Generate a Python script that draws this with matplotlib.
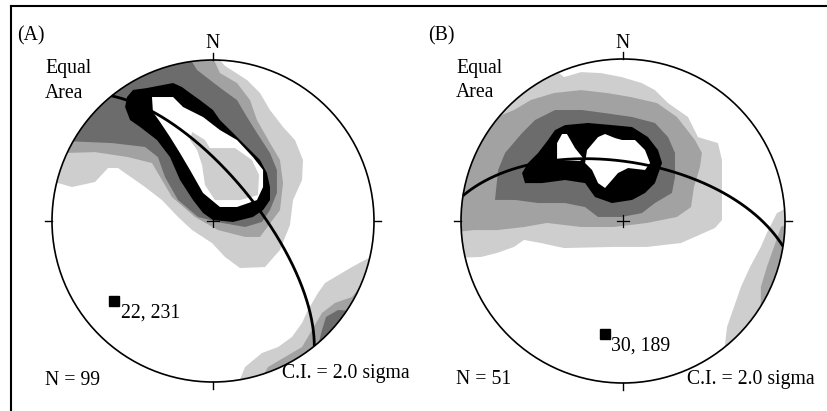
import numpy as np
import matplotlib
matplotlib.use("Agg")
import matplotlib.pyplot as plt
from matplotlib.patches import Polygon, Circle

plt.rcParams['font.family'] = ['Liberation Serif', 'DejaVu Serif']

# ---------------- data ----------------
PANELS = ['(A)', '(B)']
N_POLES = [99, 51]
CONTOUR_INTERVAL = 2.0          # sigma
POLE_A = (22, 231)              # plunge, trend of mean pole / great-circle pole
POLE_B = (30, 189)

# contour level colours (1 = lowest ... 6 = highest)
LEVEL_COLORS = {1: '#cecece', 2: '#a2a2a2', 3: '#6c6c6c', 4: '#000000',
                5: '#ffffff', 6: '#cecece'}

# density contour boundaries, equal-area lower hemisphere, % of primitive radius (x east, y north)
A_L1_UPPER = [(-5, 110), (7.5, 96.3), (21.1, 87.6), (29.2, 79.5), (35.4, 68.9), (43.5, 58.4),
              (50.9, 50.3), (55.9, 37.9), (55.3, 25.5), (49.7, 13.0), (47.8, -2.5), (41.6, -18.0),
              (32.3, -28.6), (16.8, -29.2), (7.5, -22.4), (-0.6, -13.7), (-13.0, -5.6), (-21.7, 2.5),
              (-31.7, 13.0), (-42.2, 21.1), (-59.0, 32.9), (-65.2, 32.9), (-73.3, 24.2), (-87.6, 21.1),
              (-96.3, 23.6), (-110, 23), (-115, 60), (-80, 95), (-40, 112)]
A_L2_UPPER = [(-100, 42), (-73.3, 42.8), (-52.8, 39.7), (-37.9, 36.0), (-25.5, 14.9), (-11.2, 2.5),
              (3.1, -5.6), (19.9, -9.9), (29.2, -9.9), (41.6, 6.8), (43.5, 23.6), (41.6, 37.9),
              (35.4, 48.4), (27.3, 62.7), (23.0, 75.1), (14.9, 85.7), (4.3, 91.9), (-4, 110),
              (-60, 110), (-110, 60)]
A_L3_UPPER = [(-100, 50), (-62.7, 48.4), (-42.2, 46.0), (-34.2, 39.7), (-29.8, 27.3), (-21.7, 13.0),
              (-9.3, 2.5), (5.6, -1.2), (19.9, -3.7), (30.4, -0.6), (35.4, 6.8), (39.7, 17.4),
              (39.7, 31.7), (35.4, 42.2), (27.3, 54.7), (21.1, 64.6), (14.9, 75.1), (6.2, 81.4),
              (-1.9, 87.6), (-9.9, 93.8), (-20, 110), (-60, 110), (-110, 60)]
A_L4 = [(-54.6, 70.8), (-53.4, 77.0), (-49.7, 81.4), (-41.0, 82.6), (-24.8, 85.7), (-19.3, 83.2),
        (-14.3, 79.5), (-8.1, 75.1), (0.0, 68.9), (4.3, 62.7), (12.4, 54.7), (21.1, 46.0),
        (29.2, 37.9), (33.5, 29.8), (35.4, 21.1), (35.4, 13.0), (31.1, 6.8), (24.8, 2.5),
        (12.4, -0.6), (0.0, 0.6), (-6.2, 5.0), (-12.4, 13.0), (-20.5, 25.5), (-26.7, 39.7),
        (-34.8, 50.3), (-45.3, 58.4), (-51.5, 62.7)]
A_L5 = [(-37.9, 77.0), (-24.8, 77.0), (-18.6, 70.8), (-6.2, 64.6), (4.3, 56.5), (14.9, 50.3),
        (24.8, 39.7), (31.1, 31.7), (31.1, 21.1), (27.3, 13.0), (14.9, 8.7), (4.3, 8.7),
        (-6.2, 17.4), (-14.3, 31.7), (-20.5, 42.2), (-26.7, 52.2), (-32.9, 61.5), (-37.3, 67.7)]
A_L6 = [(-13.0, 55.3), (-5.0, 50.3), (-1.9, 45.3), (13.7, 45.3), (24.2, 37.9), (28.6, 28.6),
        (27.9, 16.1), (16.8, 13.0), (1.2, 13.0), (-5.0, 22.4), (-6.8, 34.8), (-9.9, 44.1),
        (-14.3, 50.3)]
A_L1_LOWER = [(12, -110), (19.9, -90.7), (30.4, -82.0), (40.4, -78.3), (49.1, -72.0), (55.3, -63.3),
              (59.0, -55.3), (65.2, -44.7), (69.6, -38.5), (75.8, -34.8), (86.3, -28.6), (94.4, -24.2),
              (110, -17), (110, -110)]
A_L2_LOWER = [(23, -110), (34.2, -90.7), (44.7, -84.5), (55.3, -78.3), (61.5, -67.7), (67.7, -57.1),
              (75.8, -50.9), (86.3, -47.2), (90.0, -42.8), (105, -38), (110, -110)]
A_L3_LOWER = [(62, -90), (67.7, -67.7), (70.2, -59.6), (77.6, -55.3), (90, -56), (95, -85)]

B_L1_UPPER = [(-50, 100), (-36.4, 88.8), (-25.9, 91.9), (-13.6, 91.3), (-0.6, 88.8), (11.7, 85.1),
              (19.7, 80.8), (27.8, 72.8), (40.1, 64.2), (46.3, 51.8), (58.6, 48.1), (61.1, 37.6),
              (61.1, 21.0), (61.1, 0.6), (56.8, -4.3), (35.8, -13.6), (14.8, -16.0), (-5.6, -16.0),
              (-36.4, -16.7), (-50.6, -13.6), (-61.1, -11.7), (-67.3, -16.0), (-77.7, -19.7),
              (-87.6, -22.2), (-110, -23), (-115, 40), (-75, 95)]
B_L2_UPPER = [(-105, -7), (-91.9, -5.6), (-77.7, -5.6), (-61.1, -3.7), (-46.9, -1.2), (-25.9, -3.7),
              (-5.6, -3.7), (14.8, -1.2), (33.3, 2.5), (42.0, 8.6), (43.8, 21.0), (47.5, 33.3),
              (48.7, 42.0), (44.4, 50.0), (33.3, 64.2), (21.0, 72.8), (4.9, 76.5), (-9.9, 79.0),
              (-25.9, 80.8), (-42.6, 79.0), (-56.8, 74.7), (-67.3, 68.5), (-77.7, 64.2),
              (-90, 70), (-110, 20)]
B_L3 = [(-54.3, 62.3), (-42.0, 68.5), (-25.3, 68.5), (-11.1, 66.6), (5.6, 64.2), (19.7, 60.5),
        (27.8, 51.8), (32.1, 42.0), (32.1, 27.1), (30.2, 17.3), (19.7, 11.1), (11.7, 4.9),
        (-0.6, 2.5), (-15.4, 2.5), (-23.4, 8.6), (-35.8, 11.1), (-52.4, 11.1), (-66.6, 13.0),
        (-79.0, 13.0), (-77.1, 31.5), (-72.8, 42.0), (-62.3, 54.3)]
B_L4 = [(-42.0, 56.1), (-35.8, 59.2), (-21.6, 60.5), (-6.8, 59.2), (5.6, 58.0), (15.4, 51.8),
        (21.6, 43.8), (24.1, 35.8), (19.7, 23.4), (13.6, 17.3), (5.6, 13.0), (-6.8, 11.1),
        (-17.3, 14.8), (-23.4, 23.4), (-35.8, 25.3), (-50.0, 23.4), (-60.5, 23.4), (-62.3, 29.6),
        (-58.6, 35.8), (-52.4, 42.0), (-46.3, 50.0)]
B_L5_LEFT = [(-40.7, 37.6), (-40.7, 48.1), (-37.6, 53.7), (-34.6, 53.7), (-29.6, 45.0),
             (-24.7, 38.9), (-26.5, 37.0)]
B_L5_RIGHT = [(-22.2, 43.8), (-15.4, 51.8), (-11.1, 53.7), (-4.9, 51.2), (-0.6, 50.0), (7.4, 50.0),
              (13.6, 43.8), (16.7, 35.8), (13.6, 31.5), (3.1, 32.7), (-3.1, 29.6), (-6.8, 25.3),
              (-11.1, 20.4), (-15.4, 23.4), (-19.1, 31.5), (-23.4, 35.8)]
B_L1_LOWER = [(105, 10), (95.0, 4.9), (88.8, -7.4), (85.1, -16.0), (78.4, -28.4), (72.8, -40.7),
              (68.5, -53.1), (64.2, -65.4), (62, -85), (110, -90)]
B_L2_LOWER = [(105, 0), (97.5, -3.7), (93.2, -16.0), (88.8, -28.4), (85.1, -40.7), (85, -60),
              (110, -60)]

CONTOURS_A = [(1, A_L1_UPPER), (1, A_L1_LOWER), (2, A_L2_UPPER), (2, A_L2_LOWER),
              (3, A_L3_UPPER), (3, A_L3_LOWER), (4, A_L4), (5, A_L5), (6, A_L6)]
CONTOURS_B = [(1, B_L1_UPPER), (1, B_L1_LOWER), (2, B_L2_UPPER), (2, B_L2_LOWER),
              (3, B_L3), (4, B_L4), (5, B_L5_LEFT), (5, B_L5_RIGHT)]

# ---------------- helpers ----------------
W, H = 827, 411


def line_xyz(plunge, trend):
    p, t = np.radians(plunge), np.radians(trend)
    return np.array([np.cos(p) * np.sin(t), np.cos(p) * np.cos(t), -np.sin(p)])


def proj(v):
    v = np.asarray(v, float)
    if v[2] > 0:
        v = -v
    d = np.sqrt(1.0 - v[2])
    return v[0] / d, v[1] / d


def great_circle(pole):
    n = line_xyz(*pole)
    t = np.radians(pole[1])
    u = np.array([np.cos(t), -np.sin(t), 0.0])
    v = np.cross(n, u)
    if v[2] > 0:
        v = -v
    th = np.linspace(0, np.pi, 400)
    xs, ys = [], []
    for a in th:
        x, y = proj(np.cos(a) * u + np.sin(a) * v)
        xs.append(x); ys.append(y)
    return np.array(xs), np.array(ys)


def make_axes(fig, cx, cy, r):
    left, right, top, bottom = cx - 200, cx + 200, 11, 411
    ax = fig.add_axes([left / W, (H - bottom) / H, (right - left) / W, (bottom - top) / H])
    ax.set_xlim((left - cx) / r, (right - cx) / r)
    ax.set_ylim((cy - bottom) / r, (cy - top) / r)
    ax.axis('off')
    return ax


def draw_panel(ax, contours, pole):
    clip = Circle((0, 0), 1.0, transform=ax.transData, facecolor='none', edgecolor='none')
    ax.add_patch(clip)
    for level, poly in contours:
        pts = np.array(poly, float) / 100.0
        pg = Polygon(pts, closed=True, facecolor=LEVEL_COLORS[level], edgecolor='none', zorder=level)
        ax.add_patch(pg)
        pg.set_clip_path(clip)
    gx, gy = great_circle(pole)
    ax.plot(gx, gy, color='black', lw=2.0, zorder=10, solid_capstyle='butt')
    ax.add_patch(Circle((0, 0), 1.0, facecolor='none', edgecolor='black', lw=1.2, zorder=11))
    tk = 0.045
    ax.plot([0, 0], [1, 1 + tk], color='black', lw=1.0, zorder=11)
    ax.plot([0, 0], [-1, -1 - tk], color='black', lw=1.0, zorder=11)
    ax.plot([-1, -1 - tk], [0, 0], color='black', lw=1.0, zorder=11)
    ax.plot([1, 1 + tk], [0, 0], color='black', lw=1.0, zorder=11)
    ax.plot([-0.035, 0.035], [0, 0], color='black', lw=0.9, zorder=12)
    ax.plot([0, 0], [-0.035, 0.035], color='black', lw=0.9, zorder=12)
    px, py = proj(line_xyz(*pole))
    ax.plot([px], [py], marker='s', ms=7.2, color='black', zorder=12, linestyle='none')


fig = plt.figure(figsize=(W / 100, H / 100), dpi=100)
fig.patch.set_facecolor('white')

axA = make_axes(fig, 213, 221, 161)
axB = make_axes(fig, 623, 221, 162)
draw_panel(axA, CONTOURS_A, POLE_A)
draw_panel(axB, CONTOURS_B, POLE_B)

FS = 14.2


def ftext(px, py, s, ha='left'):
    fig.text(px / W, 1 - py / H, s, ha=ha, va='baseline', fontsize=FS, color='black')


# panel A texts
ftext(17, 40, PANELS[0])
ftext(213, 48, 'N', ha='center')
ftext(45, 73, 'Equal')
ftext(45, 98, 'Area')
ftext(45, 385, f'N = {N_POLES[0]}')
ftext(282, 378, f'C.I. = {CONTOUR_INTERVAL:.1f} sigma')
ftext(121, 318, f'{POLE_A[0]}, {POLE_A[1]}')
# panel B texts
ftext(428, 40, PANELS[1])
ftext(623, 48, 'N', ha='center')
ftext(456, 73, 'Equal')
ftext(456, 97, 'Area')
ftext(456, 384, f'N = {N_POLES[1]}')
ftext(687, 384, f'C.I. = {CONTOUR_INTERVAL:.1f} sigma')
ftext(611, 351, f'{POLE_B[0]}, {POLE_B[1]}')

# frame (left and top edges of the enclosing box)
fig.add_artist(plt.Line2D([11 / W, 11 / W], [0, 1 - 6 / H], transform=fig.transFigure,
                          color='black', lw=1.5))
fig.add_artist(plt.Line2D([11 / W, 1], [1 - 6 / H, 1 - 6 / H], transform=fig.transFigure,
                          color='black', lw=1.5))

fig.savefig('out.png', dpi=100, facecolor='white')
